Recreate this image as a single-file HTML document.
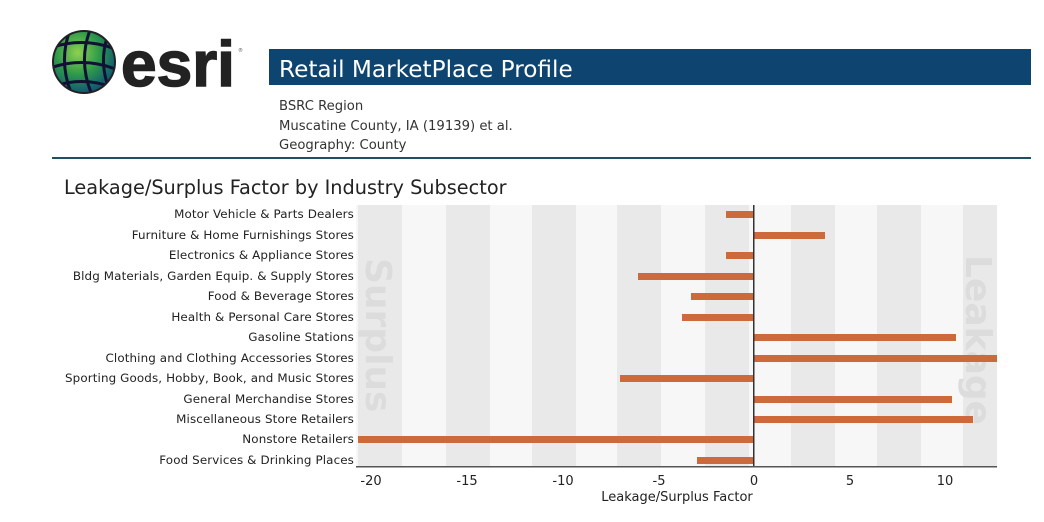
<!DOCTYPE html>
<html><head><meta charset="utf-8"><style>
html,body{margin:0;padding:0;background:#fff;}
svg{display:block;}
</style></head><body>
<svg width="1044" height="522" viewBox="0 0 1044 522" xmlns="http://www.w3.org/2000/svg" font-family="DejaVu Sans, Liberation Sans, sans-serif">
<defs>
<radialGradient id="g" cx="40%" cy="35%" r="70%"><stop offset="0" stop-color="#8fd14f"/><stop offset="0.5" stop-color="#2e9a4a"/><stop offset="1" stop-color="#0b4e7a"/></radialGradient>
<clipPath id="gc"><circle cx="84" cy="62" r="31"/></clipPath>
</defs>
<circle cx="84" cy="62" r="31" fill="url(#g)"/>
<g clip-path="url(#gc)" stroke="#113" stroke-width="3" fill="none">
<path d="M50 48 Q84 36 118 50"/><path d="M50 68 Q84 56 118 70"/><path d="M55 86 Q84 76 115 88"/>
<path d="M70 30 Q58 62 72 95"/><path d="M90 30 Q78 62 92 95"/><path d="M108 35 Q98 62 110 92"/>
</g>
<circle cx="84" cy="62" r="31" fill="none" stroke="#222" stroke-width="2"/>
<text x="121" y="86" font-family="Liberation Sans, sans-serif" font-weight="bold" font-size="64" fill="#222" stroke="#222" stroke-width="1.5">esri</text>
<text x="238" y="52" font-size="5" fill="#555">®</text>
<rect x="269" y="49" width="762" height="36" fill="#0e4470"/>
<text x="279" y="77" font-size="23.2" fill="#fff">Retail MarketPlace Profile</text>
<text x="279" y="110" font-size="13.2" fill="#333">BSRC Region</text>
<text x="279" y="130" font-size="13.2" fill="#333">Muscatine County, IA (19139) et al.</text>
<text x="279" y="149" font-size="13.2" fill="#333">Geography: County</text>
<rect x="52" y="157" width="979" height="2" fill="#1f4f63"/>
<text x="64" y="194" font-size="19.3" fill="#222">Leakage/Surplus Factor by Industry Subsector</text>
<rect x="356" y="205" width="641" height="262" fill="#f7f7f7"/>
<g fill="#e9e9e9">
<rect x="358" y="205" width="44" height="262"/><rect x="446" y="205" width="44" height="262"/><rect x="532" y="205" width="44" height="262"/><rect x="617" y="205" width="44" height="262"/><rect x="705" y="205" width="44" height="262"/><rect x="791" y="205" width="44" height="262"/><rect x="877" y="205" width="44" height="262"/><rect x="963" y="205" width="34" height="262"/>
</g>
<text transform="translate(366,258) rotate(90)" font-size="36" font-weight="bold" fill="#dcdcdc">Surplus</text>
<text transform="translate(966,255) rotate(90)" font-size="36" font-weight="bold" fill="#dcdcdc">Leakage</text>
<g fill="#cc6a3c">
<rect x="726" y="211" width="28" height="7"/>
<rect x="754" y="232" width="71" height="7"/>
<rect x="726" y="252" width="28" height="7"/>
<rect x="638" y="273" width="116" height="7"/>
<rect x="691" y="293" width="63" height="7"/>
<rect x="682" y="314" width="72" height="7"/>
<rect x="754" y="334" width="202" height="7"/>
<rect x="754" y="355" width="243" height="7"/>
<rect x="620" y="375" width="134" height="7"/>
<rect x="754" y="396" width="198" height="7"/>
<rect x="754" y="416" width="219" height="7"/>
<rect x="358" y="436" width="396" height="7"/>
<rect x="697" y="457" width="57" height="7"/>
</g>
<rect x="753" y="205" width="1.5" height="262" fill="#333"/>
<rect x="356" y="466" width="641" height="1.5" fill="#555"/>
<g font-size="11.9" fill="#222" text-anchor="end" letter-spacing="0.12">
<text x="354" y="218">Motor Vehicle &amp; Parts Dealers</text>
<text x="354" y="239">Furniture &amp; Home Furnishings Stores</text>
<text x="354" y="259">Electronics &amp; Appliance Stores</text>
<text x="354" y="280">Bldg Materials, Garden Equip. &amp; Supply Stores</text>
<text x="354" y="300">Food &amp; Beverage Stores</text>
<text x="354" y="321">Health &amp; Personal Care Stores</text>
<text x="354" y="341">Gasoline Stations</text>
<text x="354" y="362">Clothing and Clothing Accessories Stores</text>
<text x="354" y="382">Sporting Goods, Hobby, Book, and Music Stores</text>
<text x="354" y="403">General Merchandise Stores</text>
<text x="354" y="423">Miscellaneous Store Retailers</text>
<text x="354" y="443">Nonstore Retailers</text>
<text x="354" y="464">Food Services &amp; Drinking Places</text>
</g>
<g font-size="13" fill="#222" text-anchor="middle">
<text x="371" y="485">-20</text><text x="467" y="485">-15</text><text x="563" y="485">-10</text><text x="659" y="485">-5</text><text x="754" y="485">0</text><text x="850" y="485">5</text><text x="945" y="485">10</text>
<text x="677" y="501">Leakage/Surplus Factor</text>
</g>
</svg>
</body></html>
